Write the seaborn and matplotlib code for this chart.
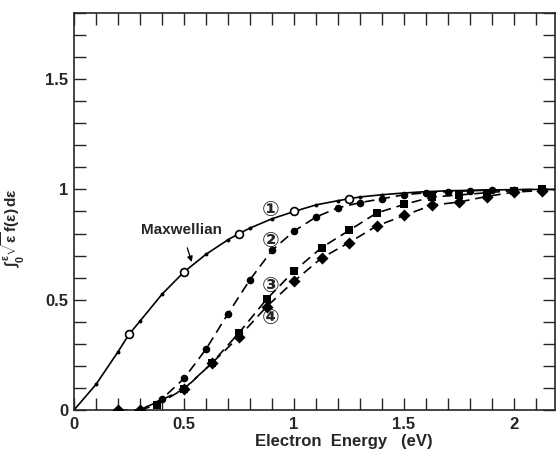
import matplotlib
matplotlib.use("Agg")
import matplotlib.pyplot as plt
from matplotlib.ticker import MultipleLocator, FixedLocator, FixedFormatter
import seaborn as sns

# ---------------- data ----------------
maxw_x = [0, 0.1, 0.2, 0.25, 0.3, 0.4, 0.5, 0.6, 0.7, 0.75, 0.8, 0.9, 1.0, 1.1,
          1.2, 1.25, 1.3, 1.4, 1.5, 1.6, 1.7, 1.8, 1.9, 2.0, 2.1, 2.2]
maxw_y = [0, 0.116, 0.264, 0.343, 0.403, 0.525, 0.626, 0.706, 0.772, 0.80, 0.825,
          0.867, 0.90, 0.93, 0.949, 0.958, 0.966, 0.976, 0.984, 0.99, 0.994, 0.996,
          0.998, 0.999, 1.0, 1.0]
maxw_dot_x = [0.1, 0.2, 0.3, 0.4, 0.6, 0.7, 0.8, 0.9, 1.1, 1.2, 1.3, 1.4]
maxw_dot_y = [0.116, 0.264, 0.403, 0.525, 0.706, 0.772, 0.825, 0.867, 0.93, 0.949, 0.966, 0.976]
maxw_open_x = [0.25, 0.5, 0.75, 1.0, 1.25]
maxw_open_y = [0.343, 0.626, 0.80, 0.90, 0.958]

c2_x = [0.3, 0.4, 0.5, 0.6, 0.7, 0.8, 0.9, 1.0, 1.1, 1.2, 1.3, 1.4, 1.5, 1.6, 1.7,
        1.8, 1.9, 2.0, 2.1, 2.2]
c2_y = [0, 0.05, 0.143, 0.276, 0.437, 0.591, 0.724, 0.811, 0.875, 0.917, 0.94,
        0.958, 0.976, 0.985, 0.99, 0.994, 0.997, 0.999, 1.0, 1.0]

c3_x = [0.3, 0.375, 0.5, 0.625, 0.75, 0.875, 1.0, 1.125, 1.25, 1.375, 1.5, 1.625,
        1.75, 1.875, 2.0, 2.125, 2.2]
c3_y = [0, 0.023, 0.096, 0.211, 0.35, 0.502, 0.63, 0.736, 0.814, 0.893, 0.932,
        0.965, 0.975, 0.985, 0.995, 1.0, 1.0]

c4_x = [0.2, 0.3, 0.5, 0.625, 0.75, 0.875, 1.0, 1.125, 1.25, 1.375, 1.5, 1.625,
        1.75, 1.875, 2.0, 2.125, 2.2]
c4_y = [0, 0, 0.094, 0.211, 0.332, 0.468, 0.584, 0.689, 0.759, 0.834, 0.882,
        0.928, 0.943, 0.968, 0.988, 0.995, 1.0]

curve_labels = ["\u2460", "\u2461", "\u2462", "\u2463"]
curve_label_y = [0.905, 0.766, 0.561, 0.415]
curve_label_x = 0.895

xtick_vals = [0, 0.5, 1, 1.5, 2]
xtick_labels = ["0", "0.5", "1", "1.5", "2"]
ytick_vals = [0, 0.5, 1, 1.5]
ytick_labels = ["0", "0.5", "1", "1.5"]

# ---------------- style ----------------
sns.set_style("ticks")
plt.rcParams["font.family"] = ["Liberation Sans", "DejaVu Sans"]
plt.rcParams["font.weight"] = "bold"
plt.rcParams["mathtext.fontset"] = "custom"
plt.rcParams["mathtext.rm"] = "Liberation Sans:bold"
plt.rcParams["mathtext.it"] = "Liberation Sans:bold"
plt.rcParams["mathtext.bf"] = "Liberation Sans:bold"

fig = plt.figure(figsize=(5.58, 4.53), dpi=100)
ax = fig.add_axes([74 / 558, 43 / 453, 481 / 558, 397 / 453])

dash = (0, (6, 3.5))
lw = 1.2

sns.lineplot(x=maxw_x, y=maxw_y, ax=ax, color="black", lw=lw, sort=False)
sns.lineplot(x=c2_x, y=c2_y, ax=ax, color="black", lw=lw, linestyle=dash, sort=False)
sns.lineplot(x=c3_x, y=c3_y, ax=ax, color="black", lw=lw, linestyle=dash, sort=False)
sns.lineplot(x=c4_x, y=c4_y, ax=ax, color="black", lw=lw, linestyle=dash, sort=False)

sns.scatterplot(x=maxw_dot_x, y=maxw_dot_y, ax=ax, color="black", s=8, marker="o",
                linewidth=0, zorder=4)
sns.scatterplot(x=maxw_open_x, y=maxw_open_y, ax=ax, facecolor="white",
                edgecolor="black", s=32, marker="o", linewidth=1.2, zorder=5)
sns.scatterplot(x=c2_x[1:18], y=c2_y[1:18], ax=ax, color="black", s=30, marker="o",
                linewidth=0, zorder=4)
sns.scatterplot(x=c3_x[1:16], y=c3_y[1:16], ax=ax, color="black", s=32, marker="s",
                linewidth=0, zorder=4)
sns.scatterplot(x=c4_x[:16], y=c4_y[:16], ax=ax, color="black", s=38, marker="D",
                linewidth=0, zorder=4)

# ---------------- axes ----------------
ax.set_xlim(0, 2.186)
ax.set_ylim(0, 1.8)
ax.xaxis.set_major_locator(FixedLocator(xtick_vals))
ax.xaxis.set_major_formatter(FixedFormatter(xtick_labels))
ax.yaxis.set_major_locator(FixedLocator(ytick_vals))
ax.yaxis.set_major_formatter(FixedFormatter(ytick_labels))
ax.xaxis.set_minor_locator(MultipleLocator(0.1))
ax.yaxis.set_minor_locator(MultipleLocator(0.1))
ax.tick_params(which="both", direction="in", length=8.5, width=1.0,
               top=True, right=True, labelsize=12)
ax.tick_params(axis="x", which="major", pad=5)
ax.tick_params(axis="y", which="major", pad=4)
for lab in ax.get_xticklabels() + ax.get_yticklabels():
    lab.set_fontweight("bold")
for s in ax.spines.values():
    s.set_linewidth(1.2)
    s.set_visible(True)

ax.set_xlabel("Electron  Energy   (eV)", fontsize=12, fontweight="bold")
ax.xaxis.set_label_coords(0.56, -0.06)
ax.set_ylabel(r"$\int_0^{\varepsilon}\sqrt{\varepsilon}\,f(\varepsilon)\,d\varepsilon$",
              fontsize=11)
ax.yaxis.set_label_coords(-0.098, 0.46)

# ---------------- annotations ----------------
for lab, yy in zip(curve_labels, curve_label_y):
    ax.text(curve_label_x, yy, lab, ha="center", va="center", fontsize=15,
            family=["DejaVu Sans", "Noto Sans CJK JP"], fontweight="bold")

ax.annotate("Maxwellian", xy=(0.535, 0.671), xytext=(0.489, 0.818),
            ha="center", va="center", fontsize=11, fontweight="bold",
            arrowprops=dict(arrowstyle="-|>", color="black", lw=0.9,
                            shrinkA=6, shrinkB=0, mutation_scale=8))

fig.savefig("out.png", dpi=100)
